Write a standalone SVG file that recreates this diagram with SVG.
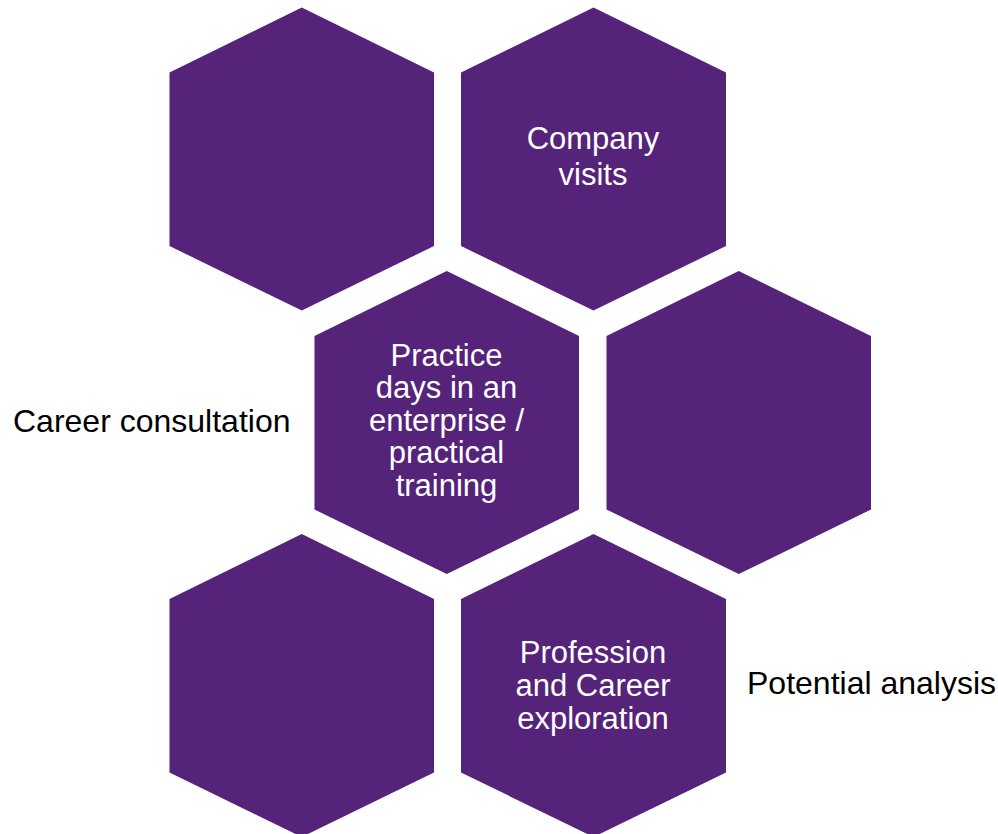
<svg xmlns="http://www.w3.org/2000/svg" width="998" height="834" viewBox="0 0 998 834">
  <style>
    .hex { fill: #55237A; }
    .inner { font-family: "Liberation Sans", Arial, sans-serif; font-size: 31px; fill: #ffffff; text-anchor: middle; }
    .outer { font-family: "Liberation Sans", Arial, sans-serif; font-size: 32px; fill: #000000; }
  </style>
  <rect width="998" height="834" fill="#ffffff"/>

  <!-- honeycomb cells -->
  <g id="hex-top-left">
    <polygon class="hex" points="301.75,7.5 434,72.5 434,246 301.75,310.5 169.5,246 169.5,72.5"/>
  </g>
  <g id="hex-company-visits">
    <polygon class="hex" points="593.5,7.5 726,72.5 726,246 593.5,310.5 461,246 461,72.5"/>
    <text class="inner" x="593" y="149">Company</text>
    <text class="inner" x="593" y="185">visits</text>
  </g>
  <g id="hex-practice-days">
    <polygon class="hex" points="446.75,271 579,336 579,509.5 446.75,574 314.5,509.5 314.5,336"/>
    <text class="inner" x="446.5" y="366">Practice</text>
    <text class="inner" x="446.5" y="398.3">days in an</text>
    <text class="inner" x="446.5" y="430.7">enterprise /</text>
    <text class="inner" x="446.5" y="463.2">practical</text>
    <text class="inner" x="446.5" y="495.5">training</text>
  </g>
  <g id="hex-middle-right">
    <polygon class="hex" points="738.75,271 871,336 871,509.5 738.75,574 606.5,509.5 606.5,336"/>
  </g>
  <g id="hex-bottom-left">
    <polygon class="hex" points="301.75,534 434,599 434,772.5 301.75,837 169.5,772.5 169.5,599"/>
  </g>
  <g id="hex-profession">
    <polygon class="hex" points="593.5,534 726,599 726,772.5 593.5,837 461,772.5 461,599"/>
    <text class="inner" x="593" y="662.7">Profession</text>
    <text class="inner" x="593" y="695.7">and Career</text>
    <text class="inner" x="593" y="728.5">exploration</text>
  </g>

  <!-- free-standing labels beside the honeycomb -->
  <g id="label-career-consultation">
    <text class="outer" x="13" y="432">Career consultation</text>
  </g>
  <g id="label-potential-analysis">
    <text class="outer" x="747" y="694.3">Potential analysis</text>
  </g>

  <g id="connectors"/>
</svg>
